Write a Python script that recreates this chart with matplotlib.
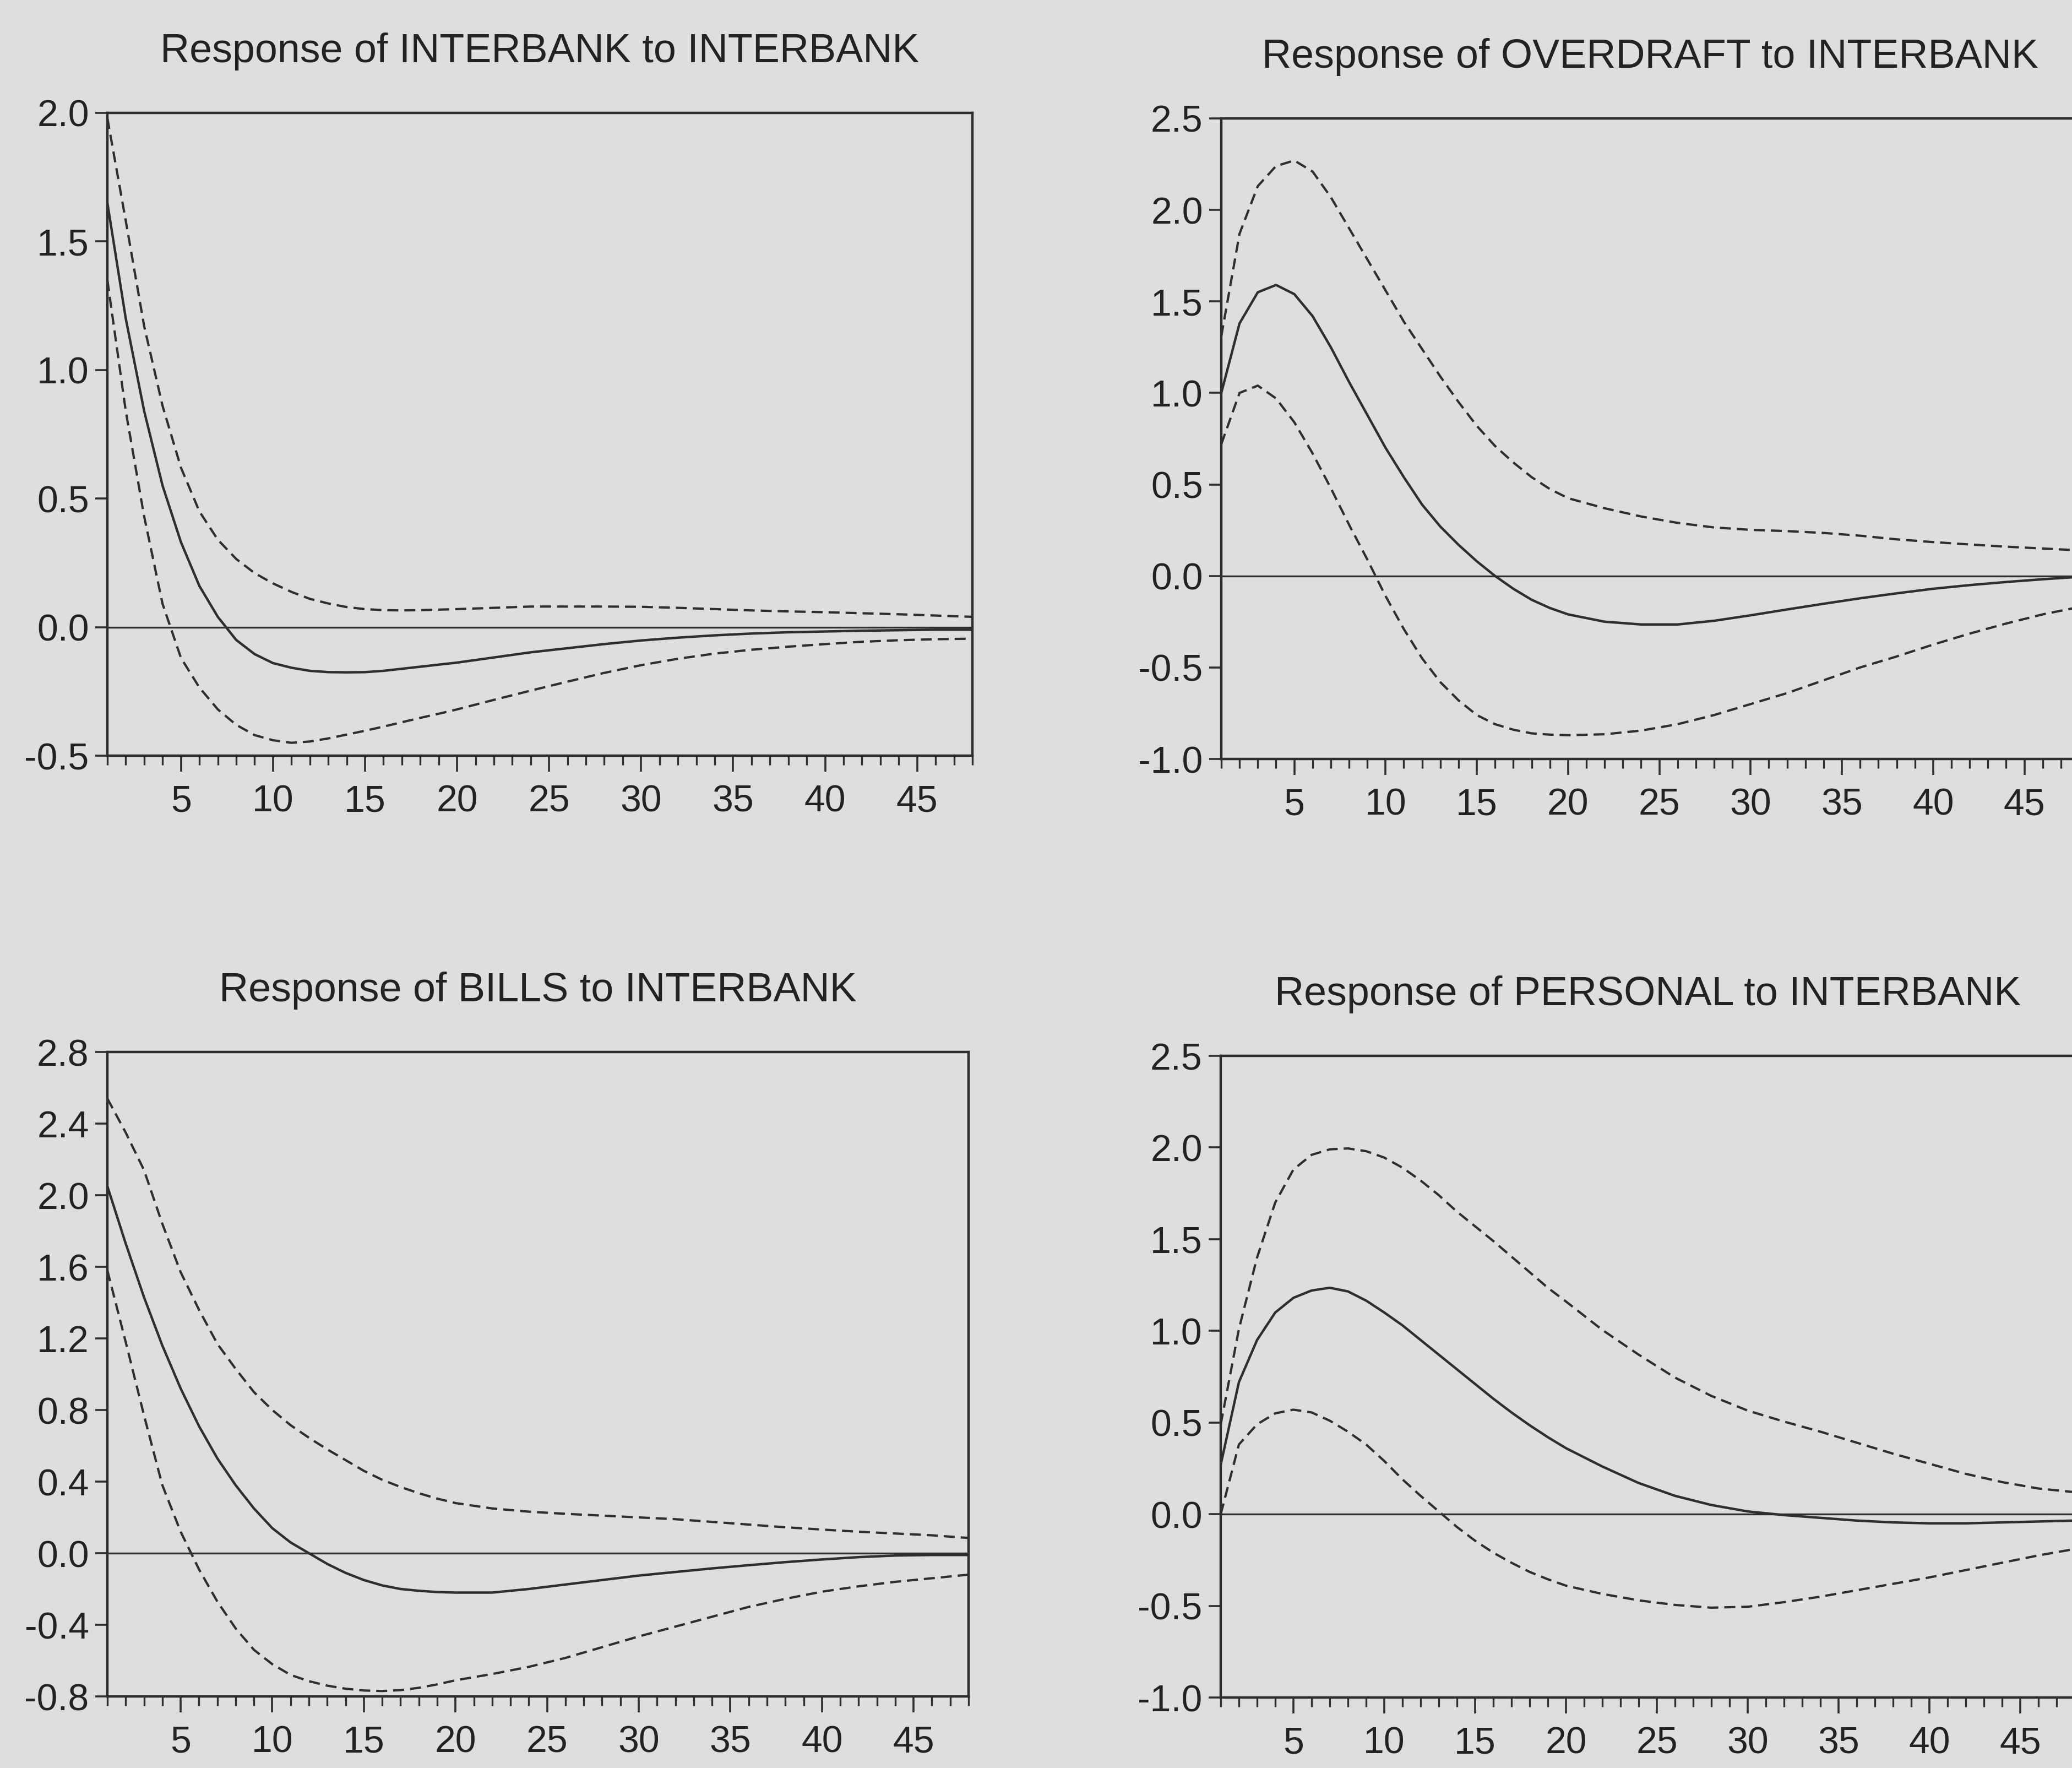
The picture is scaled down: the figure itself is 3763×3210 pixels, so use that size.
import matplotlib
matplotlib.use("Agg")
import matplotlib.pyplot as plt
from matplotlib.ticker import MultipleLocator, FixedLocator, FormatStrFormatter

plt.rcParams['font.family'] = ['Liberation Sans', 'DejaVu Sans']
plt.rcParams['axes.unicode_minus'] = False

# ---------------- data ----------------
periods = list(range(1, 21)) + list(range(22, 49, 2))

titles = [
    "Response of INTERBANK to INTERBANK",
    "Response of OVERDRAFT to INTERBANK",
    "Response of BILLS to INTERBANK",
    "Response of PERSONAL to INTERBANK",
]

interbank_resp = [1.65, 1.20, 0.84, 0.55, 0.33, 0.16, 0.04, -0.05, -0.105, -0.14,
                  -0.158, -0.17, -0.175, -0.176, -0.175, -0.17, -0.162, -0.154, -0.146, -0.138,
                  -0.118, -0.098, -0.082, -0.066, -0.052, -0.041, -0.032, -0.025, -0.02, -0.017,
                  -0.014, -0.012, -0.01, -0.01]
interbank_upper = [1.98, 1.58, 1.17, 0.86, 0.62, 0.45, 0.34, 0.265, 0.21, 0.17,
                   0.137, 0.11, 0.092, 0.078, 0.07, 0.066, 0.065, 0.066, 0.068, 0.07,
                   0.075, 0.08, 0.08, 0.08, 0.079, 0.075, 0.07, 0.065, 0.061, 0.058,
                   0.054, 0.05, 0.045, 0.04]
interbank_lower = [1.35, 0.84, 0.43, 0.09, -0.12, -0.235, -0.32, -0.38, -0.42, -0.44,
                   -0.45, -0.445, -0.433, -0.418, -0.403, -0.387, -0.37, -0.353, -0.337, -0.32,
                   -0.283, -0.247, -0.212, -0.178, -0.148, -0.123, -0.103, -0.088, -0.076, -0.066,
                   -0.057, -0.051, -0.047, -0.045]

overdraft_resp = [1.0, 1.38, 1.55, 1.59, 1.54, 1.42, 1.25, 1.06, 0.88, 0.70,
                  0.54, 0.39, 0.27, 0.17, 0.08, 0.0, -0.07, -0.13, -0.175, -0.21,
                  -0.25, -0.265, -0.265, -0.245, -0.215, -0.183, -0.152, -0.122, -0.095, -0.07,
                  -0.05, -0.033, -0.018, -0.005]
overdraft_upper = [1.31, 1.87, 2.13, 2.24, 2.27, 2.21, 2.07, 1.90, 1.73, 1.56,
                   1.39, 1.24, 1.09, 0.95, 0.82, 0.71, 0.62, 0.54, 0.475, 0.425,
                   0.37, 0.325, 0.29, 0.265, 0.252, 0.245, 0.235, 0.22, 0.20, 0.185,
                   0.172, 0.16, 0.15, 0.14]
overdraft_lower = [0.72, 1.0, 1.04, 0.97, 0.84, 0.67, 0.48, 0.28, 0.09, -0.11,
                   -0.29, -0.45, -0.58, -0.68, -0.76, -0.81, -0.84, -0.86, -0.867, -0.87,
                   -0.865, -0.845, -0.81, -0.76, -0.70, -0.64, -0.57, -0.50, -0.44, -0.375,
                   -0.315, -0.26, -0.21, -0.17]

bills_resp = [2.05, 1.73, 1.43, 1.16, 0.92, 0.71, 0.53, 0.38, 0.25, 0.14,
              0.06, 0.0, -0.06, -0.11, -0.15, -0.18, -0.20, -0.21, -0.217, -0.22,
              -0.22, -0.2, -0.175, -0.15, -0.125, -0.105, -0.085, -0.067, -0.05, -0.035,
              -0.022, -0.013, -0.01, -0.01]
bills_upper = [2.54, 2.35, 2.14, 1.84, 1.57, 1.36, 1.17, 1.03, 0.90, 0.80,
               0.715, 0.645, 0.58, 0.52, 0.46, 0.41, 0.37, 0.335, 0.305, 0.28,
               0.25, 0.232, 0.22, 0.21, 0.20, 0.19, 0.175, 0.16, 0.145, 0.132,
               0.12, 0.11, 0.10, 0.085]
bills_lower = [1.58, 1.18, 0.77, 0.38, 0.12, -0.09, -0.27, -0.42, -0.54, -0.62,
               -0.68, -0.715, -0.74, -0.757, -0.767, -0.77, -0.765, -0.752, -0.733, -0.71,
               -0.675, -0.635, -0.585, -0.525, -0.465, -0.41, -0.355, -0.30, -0.255, -0.215,
               -0.185, -0.16, -0.14, -0.12]

personal_resp = [0.27, 0.72, 0.95, 1.10, 1.18, 1.22, 1.235, 1.215, 1.165, 1.10,
                 1.03, 0.95, 0.87, 0.79, 0.71, 0.63, 0.555, 0.485, 0.42, 0.36,
                 0.26, 0.17, 0.10, 0.05, 0.015, -0.005, -0.02, -0.035, -0.045, -0.05,
                 -0.05, -0.045, -0.04, -0.035]
personal_upper = [0.49, 1.01, 1.40, 1.70, 1.88, 1.96, 1.99, 1.995, 1.98, 1.945,
                  1.89, 1.82, 1.74, 1.65, 1.57, 1.49, 1.405, 1.32, 1.235, 1.16,
                  1.005, 0.87, 0.745, 0.645, 0.565, 0.505, 0.45, 0.39, 0.33, 0.275,
                  0.22, 0.175, 0.14, 0.12]
personal_lower = [0.0, 0.38, 0.49, 0.55, 0.57, 0.555, 0.51, 0.45, 0.38, 0.29,
                  0.19, 0.10, 0.015, -0.07, -0.145, -0.21, -0.265, -0.315, -0.355, -0.39,
                  -0.435, -0.47, -0.495, -0.51, -0.505, -0.48, -0.45, -0.415, -0.38, -0.345,
                  -0.305, -0.265, -0.225, -0.19]

ytick_sets = [
    [-0.5, 0.0, 0.5, 1.0, 1.5, 2.0],
    [-1.0, -0.5, 0.0, 0.5, 1.0, 1.5, 2.0, 2.5],
    [-0.8, -0.4, 0.0, 0.4, 0.8, 1.2, 1.6, 2.0, 2.4, 2.8],
    [-1.0, -0.5, 0.0, 0.5, 1.0, 1.5, 2.0, 2.5],
]
xtick_labels = [5, 10, 15, 20, 25, 30, 35, 40, 45]

series = [
    (interbank_resp, interbank_upper, interbank_lower),
    (overdraft_resp, overdraft_upper, overdraft_lower),
    (bills_resp, bills_upper, bills_lower),
    (personal_resp, personal_upper, personal_lower),
]

# ---------------- layout ----------------
W, H = 3763, 3210
DPI = 100
BG = '#dedede'
INK = '#2e2e2e'
TXT = '#222222'

fig = plt.figure(figsize=(W / DPI, H / DPI), dpi=DPI, facecolor=BG)

# axes boxes in pixels: (left, right, top, bottom)
boxes = [
    (195, 1766, 205, 1372),
    (2218, 3776, 215, 1378),
    (195, 1759, 1910, 3080),
    (2217, 3768, 1917, 3082),
]

for i, (l, r, t, b) in enumerate(boxes):
    ax = fig.add_axes([l / W, 1 - b / H, (r - l) / W, (b - t) / H])
    ax.set_facecolor(BG)
    resp, up, lo = series[i]
    yt = ytick_sets[i]
    ax.axhline(0, color=INK, lw=2.4, zorder=1)
    ax.plot(periods, up, color=INK, lw=3.0, ls=(0, (4.8, 2.6)), zorder=2)
    ax.plot(periods, lo, color=INK, lw=3.0, ls=(0, (4.8, 2.6)), zorder=2)
    ax.plot(periods, resp, color=INK, lw=3.2, zorder=3)
    ax.set_xlim(1, 48)
    ax.set_ylim(yt[0], yt[-1])
    ax.xaxis.set_major_locator(FixedLocator(xtick_labels))
    ax.xaxis.set_minor_locator(MultipleLocator(1))
    ax.yaxis.set_major_locator(FixedLocator(yt))
    ax.yaxis.set_major_formatter(FormatStrFormatter('%.1f'))
    ax.tick_params(axis='x', which='major', direction='out', length=21, width=2.6,
                   color=INK, labelsize=49, labelcolor=TXT, pad=16)
    ax.tick_params(axis='x', which='minor', direction='out', length=12, width=2.4,
                   color=INK)
    ax.tick_params(axis='y', which='major', direction='out', length=16, width=2.6,
                   color=INK, labelsize=49, labelcolor=TXT, pad=8)
    for s in ax.spines.values():
        s.set_color(INK)
        s.set_linewidth(3.2)
    ax.set_title(titles[i], fontsize=53, color=TXT, pad=66)

fig.savefig('out.png', dpi=DPI, facecolor=BG)
